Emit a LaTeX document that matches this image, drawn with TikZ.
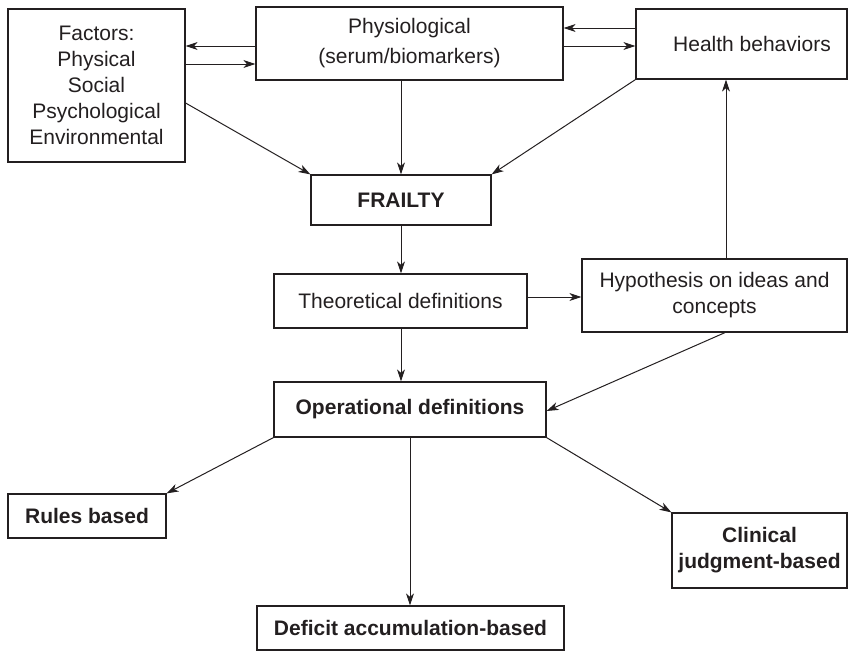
\documentclass[tikz,border=0pt]{standalone}
\usepackage{fontspec}
\setmainfont{Liberation Sans}
\usetikzlibrary{arrows.meta}
\definecolor{ink}{HTML}{231F20}
\begin{document}
\begin{tikzpicture}[x=1pt,y=-1pt,
  box/.style={draw=ink, line width=1.2pt, text=ink, inner sep=0pt, align=center,
              font=\fontsize{21}{26}\selectfont},
  bbox/.style={box, font=\fontsize{21}{26}\selectfont\bfseries},
  arr/.style={draw=ink, line width=1pt, -{Stealth[length=12pt,width=8pt,inset=3.5pt]}}]
\useasboundingbox (0,0) rectangle (849,654);
% boxes
\node[box, minimum width=177pt, minimum height=153pt] (fac) at (96.5,85.5)
  {Factors:\\Physical\\Social\\Psychological\\Environmental};
\node[box, minimum width=307pt, minimum height=73pt,
      font=\fontsize{21}{30}\selectfont] (phy) at (409.5,43.5)
  {Physiological\\(serum/biomarkers)};
\node[box, minimum width=211pt, minimum height=70pt] (hb) at (741.5,44)
  {\hspace*{21pt}Health behaviors};
\node[bbox, minimum width=180pt, minimum height=50pt] (fr) at (401,200) {FRAILTY};
\node[box, minimum width=253pt, minimum height=54pt] (th) at (400.5,301)
  {Theoretical definitions};
\node[box, minimum width=265pt, minimum height=73pt] (hyp) at (714.5,295.5)
  {Hypothesis on ideas and\\concepts};
\node[bbox, minimum width=272pt, minimum height=55pt] (op) at (410,409.5)
  {Operational definitions};
\node[bbox, minimum width=158pt, minimum height=44pt] (rul) at (87,516)
  {Rules based};
\node[bbox, minimum width=175pt, minimum height=75pt] (cli) at (759.5,550.5)
  {Clinical\\judgment-based};
\node[bbox, minimum width=307pt, minimum height=44pt] (def) at (410.5,628)
  {Deficit accumulation-based};
% connectors
\draw[arr] (phy.west |- 0,46) -- (fac.east |- 0,46);
\draw[arr] (fac.east |- 0,64) -- (phy.west |- 0,64);
\draw[arr] (hb.west |- 0,28) -- (phy.east |- 0,28);
\draw[arr] (phy.east |- 0,46) -- (hb.west |- 0,46);
\draw[arr] (fac.east |- 0,103) -- (fr.north west);
\draw[arr] (phy.south -| fr.north) -- (fr.north);
\draw[arr] (hb.south west) -- (fr.north east);
\draw[arr] (fr.south) -- (th.north -| fr.south);
\draw[arr] (th.east |- 0,297) -- (hyp.west |- 0,297);
\draw[arr] (hyp.north -| 726,0) -- (hb.south -| 726,0);
\draw[arr] (th.south -| fr.south) -- (op.north -| fr.south);
\draw[arr] (hyp.south -| 725,0) -- (op.east |- 0,411);
\draw[arr] (op.south west) -- (rul.north east);
\draw[arr] (op.south) -- (def.north -| op.south);
\draw[arr] (op.south east) -- (cli.north west);
\end{tikzpicture}
\end{document}
